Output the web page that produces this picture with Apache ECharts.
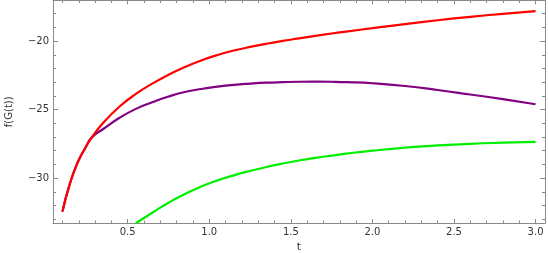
<!DOCTYPE html>
<html>
<head>
<meta charset="utf-8">
<script src="https://cdn.jsdelivr.net/npm/echarts@6/dist/echarts.min.js"></script>
<style>
html,body{margin:0;padding:0;background:#fff;}
#chart{width:548px;height:253px;}
</style>
</head>
<body>
<div id="chart"></div>
<script>
// ---- data ----
var tValues = [0.1, 0.14, 0.19, 0.24, 0.28, 0.35, 0.45, 0.55, 0.65, 0.75, 0.85, 0.95, 1.05, 1.15, 1.25, 1.35, 1.45, 1.55, 1.65, 1.75, 1.85, 2.0, 2.2, 2.4, 2.6, 2.8, 3.0];
var redValues = [-32.45, -30.63, -28.95, -27.8, -27.03, -25.97, -24.78, -23.86, -23.11, -22.46, -21.9, -21.42, -21.02, -20.69, -20.43, -20.2, -19.99, -19.8, -19.62, -19.45, -19.29, -19.06, -18.76, -18.48, -18.23, -18.01, -17.82];
var purpleValues = [-32.45, -30.63, -28.95, -27.8, -27.03, -26.42, -25.6, -24.95, -24.47, -24.05, -23.72, -23.5, -23.33, -23.2, -23.11, -23.04, -23.0, -22.97, -22.96, -22.97, -23.0, -23.08, -23.28, -23.57, -23.9, -24.24, -24.61];
var greenValues = [null, null, null, null, null, null, null, -33.3, -32.53, -31.8, -31.16, -30.62, -30.17, -29.8, -29.48, -29.19, -28.94, -28.72, -28.53, -28.36, -28.2, -28.0, -27.78, -27.62, -27.5, -27.42, -27.36];
var xMajorTicks = [0.5, 1.0, 1.5, 2.0, 2.5, 3.0];
var xMinorTicks = [0.1, 0.2, 0.3, 0.4, 0.6, 0.7, 0.8, 0.9, 1.1, 1.2, 1.3, 1.4, 1.6, 1.7, 1.8, 1.9, 2.1, 2.2, 2.3, 2.4, 2.6, 2.7, 2.8, 2.9, 3.0];
var yMajorTicks = [-30, -25, -20];
var yMinorTicks = [-33, -32, -31, -29, -28, -27, -26, -24, -23, -22, -21, -19, -18];
var xLabel = 't';
var yLabel = 'f(G(t))';

var X_MIN = 0.042, X_MAX = 3.058;
var Y_MIN = -33.28, Y_MAX = -17.04;

function pairs(vals) {
  var out = [];
  for (var i = 0; i < tValues.length; i++) {
    if (vals[i] !== null) out.push([tValues[i], vals[i]]);
  }
  return out;
}
function fmtY(v) {
  var r = Math.round(v);
  return (r < 0 ? '\u2212' : '') + Math.abs(r);
}
function fmtX(v) {
  return Number(v).toFixed(1);
}

var frameColor = '#8a8a8a';
var FONT = 'DejaVu Sans';

function xAxisDef(pos, major, labels) {
  return {
    type: 'value', position: pos, min: X_MIN, max: X_MAX,
    axisLine: { show: major, onZero: false, lineStyle: { color: frameColor, width: 1 } },
    axisTick: { show: true, inside: true, length: major ? 4 : 2.5, customValues: major ? xMajorTicks : xMinorTicks, lineStyle: { color: frameColor, width: 1 } },
    axisLabel: { show: labels, customValues: xMajorTicks, formatter: fmtX, margin: 4, color: '#333', fontSize: 10, fontFamily: FONT },
    splitLine: { show: false },
    name: labels ? xLabel : '', nameLocation: 'middle', nameGap: 19,
    nameTextStyle: { color: '#333', fontSize: 11, fontFamily: FONT }
  };
}
function yAxisDef(pos, major, labels) {
  return {
    type: 'value', position: pos, min: Y_MIN, max: Y_MAX,
    axisLine: { show: major, onZero: false, lineStyle: { color: frameColor, width: 1 } },
    axisTick: { show: true, inside: true, length: major ? 5 : 3, customValues: major ? yMajorTicks : yMinorTicks, lineStyle: { color: frameColor, width: 1 } },
    axisLabel: { show: labels, customValues: yMajorTicks, formatter: fmtY, margin: 4, color: '#333', fontSize: 10, fontFamily: FONT },
    splitLine: { show: false },
    name: labels ? yLabel : '', nameLocation: 'middle', nameGap: 39, nameRotate: 90,
    nameTextStyle: { color: '#333', fontSize: 10, fontFamily: FONT }
  };
}

var chart = echarts.init(document.getElementById('chart'), null, { renderer: 'canvas' });
chart.setOption({
  animation: false,
  backgroundColor: '#fff',
  grid: { left: 53, right: 3, top: 0.5, bottom: 30, containLabel: false, outerBoundsMode: 'none' },
  xAxis: [xAxisDef('bottom', true, true), xAxisDef('bottom', false, false), xAxisDef('top', true, false), xAxisDef('top', false, false)],
  yAxis: [yAxisDef('left', true, true), yAxisDef('left', false, false), yAxisDef('right', true, false), yAxisDef('right', false, false)],
  series: [
    { type: 'line', name: 'purple', data: pairs(purpleValues), xAxisIndex: 0, yAxisIndex: 0, showSymbol: false, smooth: 0.5, clip: true, lineStyle: { color: '#800080', width: 2.2 }, itemStyle: { color: '#800080' } },
    { type: 'line', name: 'green', data: pairs(greenValues), xAxisIndex: 0, yAxisIndex: 0, showSymbol: false, smooth: 0.5, clip: true, lineStyle: { color: '#00ee00', width: 2.2 }, itemStyle: { color: '#00ee00' } },
    { type: 'line', name: 'red', data: pairs(redValues), xAxisIndex: 0, yAxisIndex: 0, showSymbol: false, smooth: 0.5, clip: true, lineStyle: { color: '#ff0000', width: 2.2 }, itemStyle: { color: '#ff0000' } }
  ]
});
</script>
</body>
</html>
